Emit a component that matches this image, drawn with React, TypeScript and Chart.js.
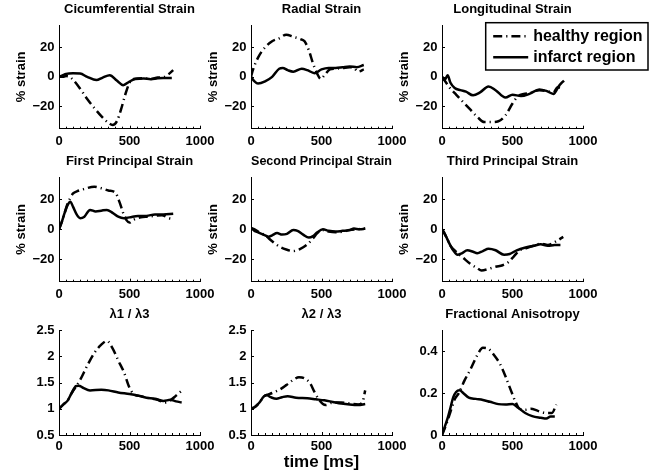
import React, { useEffect, useRef } from "react";
import { Chart, registerables } from "chart.js";
Chart.register(...registerables);

Chart.defaults.font.family = "'Liberation Sans', Arial, Helvetica, sans-serif";
Chart.defaults.font.weight = "bold";
Chart.defaults.color = "#000";

// ---------- data (time in ms, values) ----------
const strainTicks = [-20, 0, 20];
const ratioTicks = [0.5, 1, 1.5, 2, 2.5];
const faTicks = [0, 0.2, 0.4];
const timeTicks = [0, 500, 1000];

const circHT = [0, 25, 50, 75, 100, 150, 200, 250, 300, 350, 380, 410, 440, 470, 500, 530, 600, 650, 700, 750, 780, 810];
const circHV = [0, 0, 0.5, 0, -2, -8, -15, -21, -26.5, -31, -32.5, -30, -22, -12, -4, -1.5, -1, -1.5, -0.5, 0, 2, 4.5];
const circIT = [0, 25, 50, 100, 150, 200, 265, 310, 360, 410, 455, 500, 540, 600, 650, 700, 750, 800];
const circIV = [0, 1, 2, 2.4, 2.2, 0, -2.2, -0.5, 1.1, -2.5, -5.6, -3.2, -1.4, -1.1, -1.6, -1.0, -0.8, -0.7];

const radHT = [0, 15, 50, 100, 150, 200, 250, 300, 350, 380, 410, 440, 470, 495, 520, 560, 600, 650, 700, 730, 760, 800];
const radHV = [0, 5, 13, 20, 24, 26, 28.5, 27, 25.5, 24, 18, 9, 2, -1.5, 1, 5, 5.5, 6, 6.5, 6, 3.5, 5];
const radIT = [0, 25, 50, 100, 150, 200, 225, 260, 300, 360, 400, 450, 500, 550, 600, 650, 700, 750, 800];
const radIV = [0, -3, -4.5, -3, 0, 5.5, 6, 4.5, 3.5, 5.5, 4.5, 2.5, 5, 6, 6, 6.5, 7, 6.5, 8];

const lonHT = [0, 30, 60, 100, 150, 200, 250, 300, 350, 400, 450, 500, 540, 580, 620, 690, 740, 790, 820, 860];
const lonHV = [0, -4, -8, -12, -17, -22, -27, -30.5, -30.5, -30, -26, -18, -13, -11.5, -11, -9, -9.5, -10.5, -7, -7.5];
const lonIT = [0, 20, 40, 60, 90, 130, 170, 220, 270, 330, 380, 450, 500, 560, 620, 690, 740, 790, 830, 865];
const lonIV = [0, -2, 1, -4, -7.5, -9, -10, -12.5, -10.5, -6.5, -9, -14, -12, -13, -11.5, -8.5, -9.5, -11.5, -6, -2.5];

const p1HT = [0, 20, 40, 60, 80, 100, 130, 180, 250, 300, 350, 400, 430, 455, 480, 500, 530, 580, 630, 680, 730, 780, 810];
const p1HV = [0, 5, 11, 17, 21, 24, 25.5, 27, 28.5, 27.5, 26, 24.5, 18, 11, 6, 4.5, 6.5, 8, 8.5, 9, 9.5, 7.5, 7];
const p1IT = [0, 20, 40, 60, 80, 100, 125, 150, 180, 220, 260, 300, 340, 380, 420, 460, 500, 560, 620, 680, 740, 810];
const p1IV = [0, 5, 11, 16, 18.5, 15, 10, 7.5, 8.5, 13, 12, 12.5, 13, 11, 8.5, 7.5, 8, 9, 9, 10, 10, 10.5];

const p2HT = [0, 25, 50, 100, 150, 200, 250, 300, 350, 400, 440, 470, 510, 550, 600, 650, 700, 750, 810];
const p2HV = [1, 0, -1.5, -4, -8, -11.5, -13.5, -14.5, -13, -10, -6, -2.5, -0.5, -1.5, -2, -1.5, -0.5, 0, 0.5];
const p2IT = [0, 25, 50, 100, 125, 150, 185, 220, 255, 300, 330, 370, 410, 440, 470, 510, 550, 600, 650, 700, 730, 770, 810];
const p2IV = [1, -1, -2, -4, -5, -4, -2.5, -3.5, -3, -0.5, -1, -3.5, -5.5, -4.5, -2, 0, -1, -1.5, -1, -0.5, 0.5, 0, 0.5];

const p3HT = [0, 30, 60, 100, 150, 200, 250, 280, 330, 380, 430, 470, 510, 550, 600, 650, 700, 750, 800, 860];
const p3HV = [0, -5, -11, -15, -19, -23, -26, -27.5, -26.5, -25, -24, -22, -18, -14, -12.5, -11, -9.5, -10.5, -8.5, -5];
const p3IT = [0, 15, 30, 50, 80, 110, 140, 180, 220, 250, 290, 330, 380, 440, 480, 530, 600, 650, 700, 750, 800, 840];
const p3IV = [0, -2, -5, -9, -14, -17, -16, -14, -15, -16, -14.5, -13, -14, -17, -16.5, -14, -12, -11, -10, -11, -10.5, -10.5];

const l13HT = [0, 30, 60, 90, 120, 150, 200, 250, 300, 340, 380, 420, 460, 500, 530, 580, 640, 700, 750, 790, 830, 865];
const l13HV = [1.0, 1.08, 1.15, 1.3, 1.42, 1.55, 1.82, 2.06, 2.22, 2.29, 2.15, 1.92, 1.7, 1.4, 1.28, 1.24, 1.2, 1.17, 1.12, 1.16, 1.25, 1.33];
const l13IT = [0, 30, 60, 90, 120, 140, 170, 220, 300, 350, 420, 500, 560, 620, 680, 740, 790, 830, 870];
const l13IV = [1.0, 1.08, 1.15, 1.3, 1.43, 1.44, 1.4, 1.35, 1.36, 1.35, 1.31, 1.28, 1.25, 1.21, 1.19, 1.15, 1.17, 1.14, 1.12];

const l23HT = [0, 30, 60, 90, 110, 150, 200, 250, 300, 340, 380, 420, 450, 480, 510, 530, 580, 640, 700, 760, 790, 810];
const l23HV = [1.0, 1.04, 1.12, 1.23, 1.26, 1.3, 1.36, 1.45, 1.55, 1.6, 1.58, 1.48, 1.32, 1.18, 1.09, 1.07, 1.12, 1.12, 1.1, 1.08, 1.12, 1.35];
const l23IT = [0, 30, 60, 90, 110, 140, 180, 220, 260, 320, 400, 460, 520, 580, 640, 700, 760, 810];
const l23IV = [1.0, 1.04, 1.12, 1.23, 1.26, 1.22, 1.19, 1.22, 1.24, 1.21, 1.2, 1.18, 1.16, 1.13, 1.1, 1.08, 1.07, 1.09];

const faHT = [0, 30, 60, 90, 120, 160, 200, 250, 290, 330, 370, 410, 450, 490, 520, 550, 590, 630, 680, 740, 780, 810];
const faHV = [0, 0.05, 0.11, 0.17, 0.2, 0.26, 0.31, 0.38, 0.415, 0.41, 0.38, 0.34, 0.28, 0.21, 0.16, 0.125, 0.12, 0.125, 0.115, 0.105, 0.105, 0.145];
const faIT = [0, 20, 40, 60, 80, 100, 125, 150, 190, 240, 290, 340, 400, 450, 500, 540, 590, 640, 700, 740, 770, 800];
const faIV = [0, 0.04, 0.08, 0.13, 0.18, 0.205, 0.213, 0.2, 0.178, 0.172, 0.167, 0.158, 0.147, 0.145, 0.148, 0.13, 0.105, 0.09, 0.082, 0.078, 0.088, 0.088];

const seriesLabels = ["healthy region", "infarct region"];
const titles = [
  "Cicumferential Strain", "Radial Strain", "Longitudinal Strain",
  "First Principal Strain", "Second Principal Strain", "Third Principal Strain",
  "\u03bb1 / \u03bb3", "\u03bb2 / \u03bb3", "Fractional Anisotropy",
];

// ---------- layout ----------
const COLS = [{ x0: 59.3, x1: 200.3 }, { x0: 250.7, x1: 391.7 }, { x0: 442, x1: 583 }];
const ROWS = [{ y0: 25, y1: 128.7, xPad: 5 }, { y0: 177, y1: 281.7, xPad: 5 }, { y0: 330, y1: 435, xPad: 4 }];
const Y_W = 59;
const X_H = 40;
const TOP_H = 25;
const TITLE_SIZE = 13;
const TITLE_GAP = 7.7;
const HEALTHY_DASH = [9, 4, 1.2, 4];
const LEGEND_BOX = { x0: 485.7, y0: 22.7, x1: 648, y1: 70 };

type Spec = {
  title: string;
  hT: number[]; hV: number[]; iT: number[]; iV: number[];
  yMin: number; yMax: number; yTicks: number[];
  yTitle: boolean; xTitle: boolean; legend: boolean;
  col: number; row: number;
};

const pts = (t: number[], v: number[]) => t.map((x, i) => ({ x, y: v[i] }));

const specs: Spec[] = [
  { title: titles[0], hT: circHT, hV: circHV, iT: circIT, iV: circIV, yMin: -35, yMax: 35, yTicks: strainTicks, yTitle: true, xTitle: false, legend: false, col: 0, row: 0 },
  { title: titles[1], hT: radHT, hV: radHV, iT: radIT, iV: radIV, yMin: -35, yMax: 35, yTicks: strainTicks, yTitle: true, xTitle: false, legend: false, col: 1, row: 0 },
  { title: titles[2], hT: lonHT, hV: lonHV, iT: lonIT, iV: lonIV, yMin: -35, yMax: 35, yTicks: strainTicks, yTitle: true, xTitle: false, legend: true, col: 2, row: 0 },
  { title: titles[3], hT: p1HT, hV: p1HV, iT: p1IT, iV: p1IV, yMin: -35, yMax: 35, yTicks: strainTicks, yTitle: true, xTitle: false, legend: false, col: 0, row: 1 },
  { title: titles[4], hT: p2HT, hV: p2HV, iT: p2IT, iV: p2IV, yMin: -35, yMax: 35, yTicks: strainTicks, yTitle: true, xTitle: false, legend: false, col: 1, row: 1 },
  { title: titles[5], hT: p3HT, hV: p3HV, iT: p3IT, iV: p3IV, yMin: -35, yMax: 35, yTicks: strainTicks, yTitle: true, xTitle: false, legend: false, col: 2, row: 1 },
  { title: titles[6], hT: l13HT, hV: l13HV, iT: l13IT, iV: l13IV, yMin: 0.5, yMax: 2.5, yTicks: ratioTicks, yTitle: false, xTitle: false, legend: false, col: 0, row: 2 },
  { title: titles[7], hT: l23HT, hV: l23HV, iT: l23IT, iV: l23IV, yMin: 0.5, yMax: 2.5, yTicks: ratioTicks, yTitle: false, xTitle: true, legend: false, col: 1, row: 2 },
  { title: titles[8], hT: faHT, hV: faHV, iT: faIT, iV: faIV, yMin: 0, yMax: 0.5, yTicks: faTicks, yTitle: false, xTitle: false, legend: false, col: 2, row: 2 },
];

const fmt = (v: number | string) => {
  const n = Number(v);
  return n < 0 ? "\u2212" + String(Math.abs(n)) : String(n);
};

const innerTicks = {
  id: "innerTicks",
  afterDatasetsDraw(chart: any) {
    const { ctx, chartArea: a } = chart;
    const xs = chart.scales.x;
    const ys = chart.scales.y;
    ctx.save();
    ctx.strokeStyle = "#000";
    ctx.lineWidth = 1;
    ctx.beginPath();
    for (let v = 0; v <= 1000; v += 50) {
      const px = Math.round(xs.getPixelForValue(v)) + 0.5;
      const len = v % 500 === 0 ? 3 : 2;
      ctx.moveTo(px, a.bottom);
      ctx.lineTo(px, a.bottom - len);
    }
    ys.ticks.forEach((t: any) => {
      const py = Math.round(ys.getPixelForValue(t.value)) + 0.5;
      ctx.moveTo(a.left, py);
      ctx.lineTo(a.left + 3, py);
    });
    ctx.stroke();
    ctx.restore();
  },
};

function makeLegendPlugin(canvasLeft: number, canvasTop: number) {
  return {
    id: "boxLegend",
    afterDraw(chart: any) {
      const { ctx } = chart;
      const b = LEGEND_BOX;
      const x0 = b.x0 - canvasLeft, y0 = b.y0 - canvasTop;
      const w = b.x1 - b.x0, h = b.y1 - b.y0;
      ctx.save();
      ctx.fillStyle = "#fff";
      ctx.fillRect(x0, y0, w, h);
      ctx.strokeStyle = "#000";
      ctx.lineWidth = 1.5;
      ctx.strokeRect(x0, y0, w, h);
      const rowsY = [y0 + 13.5, y0 + 34.5];
      chart.data.datasets.forEach((ds: any, i: number) => {
        const y = rowsY[i];
        ctx.beginPath();
        ctx.setLineDash(ds.borderDash || []);
        ctx.lineWidth = 2.5;
        ctx.moveTo(x0 + 7.5, y);
        ctx.lineTo(x0 + 42.5, y);
        ctx.stroke();
        ctx.setLineDash([]);
        ctx.fillStyle = "#000";
        ctx.font = "bold 16px 'Liberation Sans', Arial, sans-serif";
        ctx.textBaseline = "middle";
        ctx.textAlign = "left";
        ctx.fillText(ds.label, x0 + 47.5, y + 0.5);
      });
      ctx.restore();
    },
  };
}

function Panel({ spec }: { spec: Spec }) {
  const ref = useRef<HTMLCanvasElement | null>(null);
  const c = COLS[spec.col];
  const r = ROWS[spec.row];
  const padR = spec.legend ? 662 - c.x1 : 22;
  const left = c.x0 - Y_W;
  const top = r.y0 - TOP_H;
  const width = Math.round(Y_W + (c.x1 - c.x0) + padR);
  const height = Math.round(TOP_H + (r.y1 - r.y0) + X_H);
  const padRight = width - Y_W - (c.x1 - c.x0);
  const padBottom = height - TOP_H - (r.y1 - r.y0) - X_H;
  const padTop = TOP_H - (TITLE_SIZE * 1.2 + TITLE_GAP);

  useEffect(() => {
    if (!ref.current) return;
    const plugins: any[] = [innerTicks];
    if (spec.legend) plugins.push(makeLegendPlugin(left, top));
    const chart = new Chart(ref.current, {
      type: "line",
      data: {
        datasets: [
          {
            label: seriesLabels[0],
            data: pts(spec.hT, spec.hV),
            borderColor: "#000",
            borderWidth: 2.5,
            borderDash: HEALTHY_DASH,
            pointRadius: 0,
            cubicInterpolationMode: "monotone",
            fill: false,
          },
          {
            label: seriesLabels[1],
            data: pts(spec.iT, spec.iV),
            borderColor: "#000",
            borderWidth: 2.5,
            pointRadius: 0,
            cubicInterpolationMode: "monotone",
            fill: false,
          },
        ],
      },
      options: {
        responsive: false,
        animation: false,
        events: [],
        layout: { padding: { top: padTop, left: 0, right: padRight, bottom: padBottom } },
        plugins: {
          legend: { display: false },
          tooltip: { enabled: false },
          title: {
            display: true,
            fullSize: false,
            text: spec.title,
            color: "#000",
            font: { size: TITLE_SIZE, weight: "bold", lineHeight: 1.2 },
            padding: { top: 0, bottom: TITLE_GAP },
          },
        },
        scales: {
          x: {
            type: "linear",
            min: 0,
            max: 1000,
            afterBuildTicks: (s: any) => { s.ticks = timeTicks.map((v) => ({ value: v })); },
            afterFit: (s: any) => { s.height = X_H; },
            grid: { display: false, drawTicks: false },
            border: { display: true, color: "#000", width: 1 },
            ticks: {
              padding: r.xPad,
              color: "#000",
              maxRotation: 0,
              autoSkip: false,
              font: { size: 13, weight: "bold" },
              callback: (v: any) => fmt(v),
            },
            title: {
              display: spec.xTitle,
              text: "time [ms]",
              color: "#000",
              font: { size: 17, weight: "bold", lineHeight: 1.2 },
              padding: { top: 0, bottom: 2.3 },
            },
          },
          y: {
            type: "linear",
            min: spec.yMin,
            max: spec.yMax,
            afterBuildTicks: (s: any) => { s.ticks = spec.yTicks.map((v) => ({ value: v })); },
            afterFit: (s: any) => { s.width = Y_W; },
            grid: { display: false, drawTicks: false },
            border: { display: true, color: "#000", width: 1 },
            ticks: {
              padding: 4.5,
              color: "#000",
              font: { size: 13, weight: "bold" },
              callback: (v: any) => fmt(v),
            },
            title: {
              display: spec.yTitle,
              text: "% strain",
              color: "#000",
              font: { size: 13, weight: "bold", lineHeight: 1.2 },
              padding: { top: 13.2, bottom: 0 },
            },
          },
        },
      } as any,
      plugins,
    });
    return () => chart.destroy();
  }, []);

  return (
    <canvas
      ref={ref}
      width={width}
      height={height}
      style={{ position: "absolute", left, top, width, height }}
    />
  );
}

export default function App() {
  return (
    <div style={{ position: "absolute", left: 0, top: 0, width: 662, height: 475, background: "#fff", overflow: "hidden" }}>
      {specs.map((s, i) => (
        <Panel key={i} spec={s} />
      ))}
    </div>
  );
}
